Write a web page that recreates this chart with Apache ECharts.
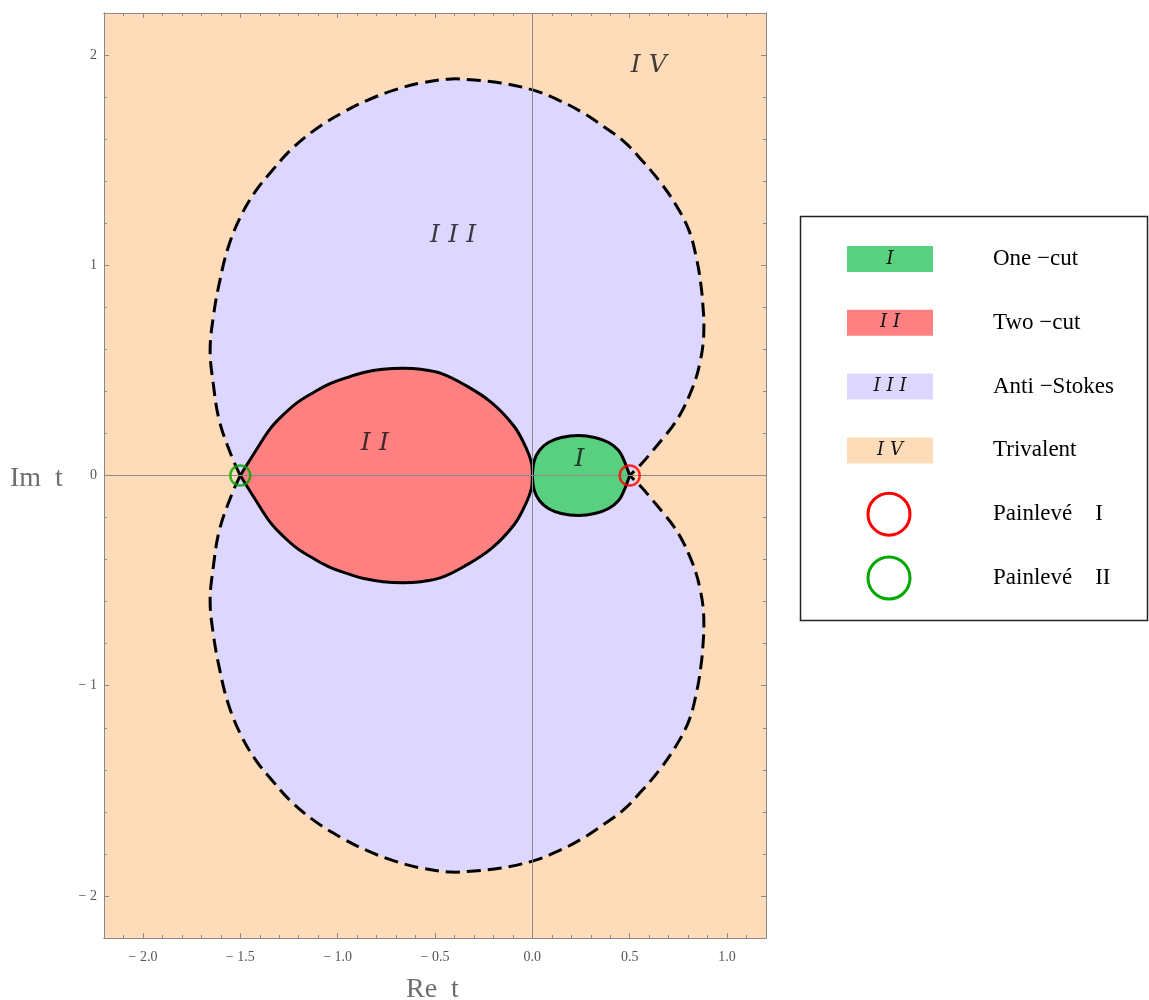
<!DOCTYPE html>
<html>
<head>
<meta charset="utf-8">
<title>Phases in the complex t plane</title>
<script src="https://cdn.jsdelivr.net/npm/echarts@6/dist/echarts.min.js"></script>
<style>
  html, body { margin: 0; padding: 0; background: #fff; }
  #chart { width: 1149px; height: 1000px; }
</style>
</head>
<body>
<div id="chart"></div>
<script>
// upper halves (Im t >= 0) of the region boundaries.
// the picture is symmetric under t -> conj(t), lower halves are mirrored.
var antiStokesUpper = [
  [-1.500, 0.000], [-1.546, 0.095], [-1.608, 0.262], [-1.639, 0.438],
  [-1.655, 0.595], [-1.639, 0.752], [-1.608, 0.914], [-1.562, 1.086],
  [-1.495, 1.238], [-1.418, 1.357], [-1.335, 1.452], [-1.242, 1.548],
  [-1.119, 1.643], [-0.969, 1.729], [-0.845, 1.786], [-0.711, 1.833],
  [-0.572, 1.867], [-0.418, 1.886], [-0.299, 1.881], [-0.160, 1.867],
  [0.005, 1.833], [0.134, 1.786], [0.253, 1.729], [0.371, 1.657],
  [0.474, 1.586], [0.562, 1.500], [0.649, 1.405], [0.732, 1.295],
  [0.804, 1.167], [0.845, 1.024], [0.866, 0.905], [0.876, 0.810],
  [0.881, 0.714], [0.876, 0.619], [0.861, 0.538], [0.840, 0.462],
  [0.809, 0.386], [0.773, 0.314], [0.727, 0.243], [0.675, 0.181],
  [0.619, 0.119], [0.562, 0.057], [0.500, 0.000]
];
var twoCutUpper = [
  [-1.500, 0.000], [-1.423, 0.114], [-1.345, 0.224], [-1.278, 0.290],
  [-1.206, 0.348], [-1.124, 0.395], [-1.036, 0.438], [-0.948, 0.467],
  [-0.866, 0.490], [-0.768, 0.505], [-0.665, 0.510], [-0.572, 0.505],
  [-0.469, 0.486], [-0.351, 0.433], [-0.211, 0.348], [-0.093, 0.233],
  [-0.031, 0.129], [-0.005, 0.062], [0.000, 0.000]
];
var oneCutUpper = [
  [0.000, 0.000], [0.010, 0.071], [0.036, 0.119], [0.082, 0.157],
  [0.149, 0.181], [0.237, 0.190], [0.320, 0.181], [0.392, 0.157],
  [0.443, 0.119], [0.469, 0.076], [0.500, 0.000]
];

var painleveI = [[0.5, 0]];
var painleveII = [[-1.5, 0]];

// [x, y, text]
var regionLabels = [
  [0.242, 0.075, 'I'],
  [-0.809, 0.152, 'II'],
  [-0.407, 1.143, 'III'],
  [0.598, 1.952, 'IV']
];

var xMajorTicks = [-2.0, -1.5, -1.0, -0.5, 0.0, 0.5, 1.0];
var xMinorTicks = [-2.1, -1.9, -1.8, -1.7, -1.6, -1.4, -1.3, -1.2, -1.1, -0.9, -0.8, -0.7, -0.6,
  -0.4, -0.3, -0.2, -0.1, 0.1, 0.2, 0.3, 0.4, 0.6, 0.7, 0.8, 0.9, 1.1];
var yMajorTicks = [-2, -1, 0, 1, 2];
var yMinorTicks = [-1.8, -1.6, -1.4, -1.2, -0.8, -0.6, -0.4, -0.2, 0.2, 0.4, 0.6, 0.8, 1.2, 1.4, 1.6, 1.8];

var legendRows = [
  { kind: 'box', fill: '#58d080', tag: 'I', text: 'One \u2212cut' },
  { kind: 'box', fill: '#ff8080', tag: 'II', text: 'Two \u2212cut' },
  { kind: 'box', fill: '#ddd6ff', tag: 'III', text: 'Anti \u2212Stokes' },
  { kind: 'box', fill: '#fedcba', tag: 'IV', text: 'Trivalent' },
  { kind: 'ring', stroke: '#ff0000', text: 'Painlev\u00e9\u2003I' },
  { kind: 'ring', stroke: '#00a800', text: 'Painlev\u00e9\u2003II' }
];

var SERIF = '"Liberation Serif", "DejaVu Serif", serif';
var SCRIPT = '"DejaVu Serif", serif';
var FRAME = '#8a8a8a';

function mirror(upper) {
  return upper.map(function (p) { return [p[0], -p[1]]; });
}
function closed(upper) {
  var lower = mirror(upper).reverse();
  return upper.concat(lower.slice(1, lower.length - 1));
}
// the script numerals in the plot are widely spaced
function spaced(s) {
  return s.split('').join('\u2004');
}

function minusFmt(digits) {
  return function (v) {
    var s = Math.abs(v).toFixed(digits);
    return v < 0 ? '\u2212 ' + s : s;
  };
}

function xAxisDef(pos, ticks, len, withLabels) {
  return {
    type: 'value', position: pos, min: -2.2, max: 1.2,
    axisLine: { show: true, onZero: false, lineStyle: { color: FRAME, width: 1 } },
    axisTick: { show: true, inside: true, length: len, customValues: ticks, lineStyle: { color: FRAME } },
    axisLabel: withLabels ? {
      show: true, customValues: ticks, formatter: minusFmt(1), margin: 12,
      color: '#555', fontFamily: SERIF, fontSize: 14
    } : { show: false },
    splitLine: { show: false }
  };
}
function yAxisDef(pos, ticks, len, withLabels) {
  return {
    type: 'value', position: pos, min: -2.2, max: 2.2,
    axisLine: { show: true, onZero: false, lineStyle: { color: FRAME, width: 1 } },
    axisTick: { show: true, inside: true, length: len, customValues: ticks, lineStyle: { color: FRAME } },
    axisLabel: withLabels ? {
      show: true, customValues: ticks, formatter: minusFmt(0), margin: 7,
      color: '#555', fontFamily: SERIF, fontSize: 14
    } : { show: false },
    splitLine: { show: false }
  };
}

// filled regions, drawn as polygons in data coordinates
function fillSeries(regions) {
  return {
    type: 'custom', z: 1, silent: true,
    data: [[0, 0]],
    renderItem: function (params, api) {
      return {
        type: 'group',
        children: regions.map(function (r) {
          return {
            type: 'polygon',
            shape: { points: r.pts.map(function (d) { return api.coord(d); }) },
            style: { fill: r.color }
          };
        })
      };
    }
  };
}
// boundary curves (smooth, no monotone clamping)
function curveSeries(curves) {
  return {
    type: 'custom', z: 4, silent: true,
    data: [[0, 0]],
    renderItem: function (params, api) {
      return {
        type: 'group',
        children: curves.map(function (c) {
          return {
            type: 'polyline',
            shape: { points: c.pts.map(function (d) { return api.coord(d); }), smooth: 0.38 },
            style: { fill: null, stroke: '#000', lineWidth: 3, lineDash: c.dashed ? [14, 7] : null }
          };
        })
      };
    }
  };
}
function ringSeries(pts, color) {
  return {
    type: 'scatter', data: pts, symbol: 'circle', symbolSize: 20, z: 6, silent: true,
    itemStyle: { color: 'rgba(0,0,0,0)', borderColor: color, borderWidth: 2.5 }
  };
}

var graphics = [
  { type: 'text', left: 406, top: 976, style: { text: 'Re  t', font: '28px ' + SERIF, fill: '#6e6e6e' } },
  { type: 'text', left: 10, top: 465, style: { text: 'Im  t', font: '28px ' + SERIF, fill: '#6e6e6e' } },
  { type: 'rect', shape: { x: 800.5, y: 216.5, width: 347, height: 404 },
    style: { fill: '#fff', stroke: '#222', lineWidth: 1.5 } }
];
legendRows.forEach(function (row, i) {
  var cy = 259 + i * 63.8;
  if (row.kind === 'box') {
    graphics.push({ type: 'rect', shape: { x: 847, y: cy - 13, width: 86, height: 26 }, style: { fill: row.fill } });
    graphics.push({ type: 'text', x: 890, y: cy, style: {
      text: spaced(row.tag), font: 'italic 18px ' + SCRIPT, fill: '#111', align: 'center', verticalAlign: 'middle' } });
  } else {
    graphics.push({ type: 'circle', shape: { cx: 889, cy: cy, r: 21 },
      style: { fill: 'none', stroke: row.stroke, lineWidth: 3 } });
  }
  graphics.push({ type: 'text', x: 993, y: cy, style: {
    text: row.text, font: '23px ' + SERIF, fill: '#000', verticalAlign: 'middle' } });
});

var chart = echarts.init(document.getElementById('chart'));
chart.setOption({
  animation: false,
  backgroundColor: '#fff',
  grid: { left: 104, top: 13, right: 383, bottom: 62, show: true, backgroundColor: '#fedcba', borderWidth: 0 },
  xAxis: [
    xAxisDef('bottom', xMajorTicks, 5, true),
    xAxisDef('bottom', xMinorTicks, 3, false),
    xAxisDef('top', xMajorTicks, 5, false),
    xAxisDef('top', xMinorTicks, 3, false)
  ],
  yAxis: [
    yAxisDef('left', yMajorTicks, 5, true),
    yAxisDef('left', yMinorTicks, 3, false),
    yAxisDef('right', yMajorTicks, 5, false),
    yAxisDef('right', yMinorTicks, 3, false)
  ],
  series: [
    fillSeries([
      { pts: closed(antiStokesUpper), color: '#ddd6ff' },
      { pts: closed(twoCutUpper), color: '#ff8080' },
      { pts: closed(oneCutUpper), color: '#58d080' }
    ]),
    {
      type: 'line', data: [], z: 3, silent: true,
      markLine: {
        silent: true, symbol: 'none', label: { show: false },
        lineStyle: { color: '#8c8c8c', width: 1, type: 'solid' },
        data: [{ xAxis: 0 }, { yAxis: 0 }]
      }
    },
    curveSeries([
      { pts: antiStokesUpper, dashed: true },
      { pts: mirror(antiStokesUpper), dashed: true },
      { pts: twoCutUpper, dashed: false },
      { pts: mirror(twoCutUpper), dashed: false },
      { pts: oneCutUpper, dashed: false },
      { pts: mirror(oneCutUpper), dashed: false }
    ]),
    ringSeries(painleveI, '#ff0000'),
    ringSeries(painleveII, '#00a800'),
    {
      type: 'scatter', data: regionLabels, symbolSize: 1, z: 7, silent: true,
      itemStyle: { color: 'rgba(0,0,0,0)' },
      label: {
        show: true, position: 'inside', formatter: function (p) { return spaced(p.data[2]); },
        fontFamily: SCRIPT, fontStyle: 'italic', fontSize: 25, color: '#111'
      }
    }
  ],
  graphic: graphics
});
</script>
</body>
</html>
